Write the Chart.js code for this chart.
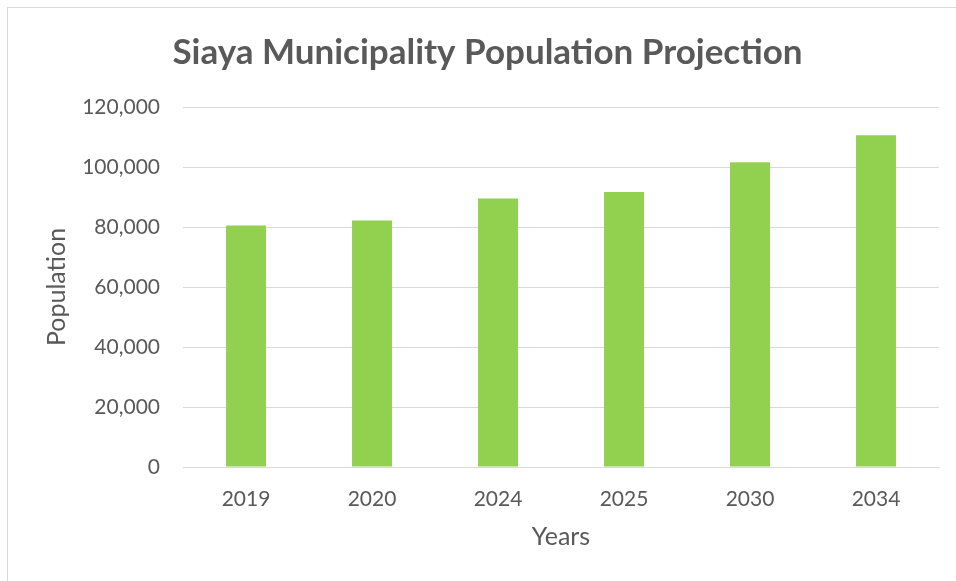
<!DOCTYPE html>
<html>
<head>
<meta charset="utf-8">
<script src="https://cdn.jsdelivr.net/npm/chart.js@4"></script>
<style>
    html, body { margin: 0; padding: 0; background: #ffffff; }
    #wrap { position: relative; width: 956px; height: 581px; overflow: hidden; }
    #frame { position: absolute; left: 7px; top: 7px; width: 960px; height: 580px; border-left: 1px solid #d9d9d9; border-top: 1px solid #d9d9d9; }
    canvas { position: absolute; left: 0; top: 0; }
</style>
</head>
<body>
<div id="wrap">
    <div id="frame"></div>
    <canvas id="popChart" width="956" height="581"></canvas>
</div>
<script>
const years = ['2019', '2020', '2024', '2025', '2030', '2034'];
const population = [80500, 82200, 89500, 91700, 101600, 110600];
const yMax = 120000;
const yStep = 20000;

const textColor = '#595959';
const gridColor = '#d9d9d9';
const fontFamily = 'Lato, "Open Sans", sans-serif';

document.addEventListener('DOMContentLoaded', () => {
    const ctx = document.getElementById('popChart');

    new Chart(ctx, {
        type: 'bar',
        data: {
            labels: years,
            datasets: [{
                label: 'Population',
                data: population,
                backgroundColor: '#92d050',
                borderWidth: 0,
                categoryPercentage: 1,
                barPercentage: 0.317
            }]
        },
        options: {
            responsive: false,
            animation: false,
            // left/right padding also centres the title where the reference has it
            layout: { padding: { left: 36, right: 17, top: 0, bottom: 0 } },
            scales: {
                x: {
                    grid: { display: false, drawTicks: false },
                    border: { display: true, color: gridColor, width: 1 },
                    ticks: {
                        color: textColor,
                        padding: 20,
                        font: { family: fontFamily, size: 21 }
                    },
                    title: {
                        display: true,
                        text: 'Years',
                        color: textColor,
                        font: { family: fontFamily, size: 25 },
                        padding: { top: 0, bottom: 29 }
                    },
                    afterFit: (scale) => { scale.height = 114; }
                },
                y: {
                    min: 0,
                    max: yMax,
                    grid: { color: gridColor, lineWidth: 1, drawTicks: false },
                    border: { display: false },
                    ticks: {
                        stepSize: yStep,
                        color: textColor,
                        padding: 23,
                        font: { family: fontFamily, size: 21 },
                        callback: (v) => v.toLocaleString('en-US')
                    },
                    title: {
                        display: true,
                        text: 'Population',
                        color: textColor,
                        font: { family: fontFamily, size: 25 },
                        padding: { top: 6, bottom: 0 }
                    },
                    afterFit: (scale) => { scale.width = 147; }
                }
            },
            plugins: {
                legend: { display: false },
                tooltip: { enabled: false },
                title: {
                    display: true,
                    text: 'Siaya Municipality Population Projection',
                    color: textColor,
                    font: { family: fontFamily, size: 35, weight: 'bold', lineHeight: 1.2 },
                    padding: { top: 32, bottom: 33 }
                }
            }
        }
    });
});
</script>
</body>
</html>
